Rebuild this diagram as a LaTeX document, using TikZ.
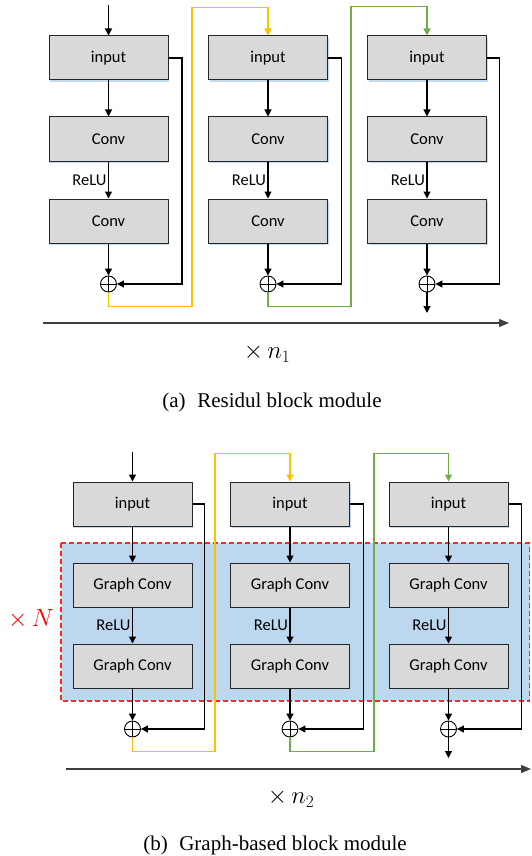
\documentclass[tikz,border=0pt]{standalone}
\usepackage{fontspec}
\setmainfont{Liberation Serif}
\newfontfamily\boxfont{Carlito}
\usetikzlibrary{arrows.meta,shadows}
\definecolor{boxgray}{RGB}{217,217,217}
\definecolor{regionblue}{RGB}{189,215,238}
\definecolor{glowblue}{RGB}{190,214,238}
\definecolor{linkyellow}{RGB}{255,192,0}
\definecolor{linkgreen}{RGB}{112,173,71}
\definecolor{dashred}{RGB}{250,40,40}
\definecolor{axisgray}{RGB}{64,64,64}

\begin{document}
\begin{tikzpicture}[x=1pt, y=-1pt,
  box/.style={draw=black!85, fill=boxgray, line width=1pt, minimum width=119pt, minimum height=44pt, inner sep=0pt,
    font=\boxfont\fontsize{16.5}{19}\selectfont,
    drop shadow={shadow xshift=1pt, shadow yshift=-2pt, fill=glowblue, opacity=0.9}},
  sum/.style={draw, circle, line width=0.9pt, minimum size=16pt, inner sep=0pt,
    path picture={\draw[line width=0.8pt] (path picture bounding box.north) -- (path picture bounding box.south)
      (path picture bounding box.west) -- (path picture bounding box.east);}},
  arr/.style={-{Triangle[length=7pt,width=7pt]}, line width=1.1pt},
  link/.style={-{Triangle[length=7pt,width=7pt]}, line width=1.4pt},
  relu/.style={left, inner sep=1.5pt, font=\boxfont\fontsize{16.5}{19}\selectfont},
  axis/.style={-{Triangle[length=10pt,width=8pt]}, line width=1.6pt, draw=axisgray},
  times/.style={font=\fontsize{24}{28}\selectfont},
  captext/.style={font=\fontsize{21}{25}\selectfont}
]
\useasboundingbox (0,0) rectangle (531,856);

% (a) residual blocks
\node[box] (inA) at (108.5,58) {input};
\node[box] (convA1) at (108.5,139) {Conv};
\node[box] (convA2) at (108.5,221) {Conv};
\node[sum] (addA) at (108.5,284) {};
\node[box] (inB) at (268,58) {input};
\node[box] (convB1) at (268,139) {Conv};
\node[box] (convB2) at (268,221) {Conv};
\node[sum] (addB) at (268,284) {};
\node[box] (inC) at (427,58) {input};
\node[box] (convC1) at (427,139) {Conv};
\node[box] (convC2) at (427,221) {Conv};
\node[sum] (addC) at (427,284) {};
\coordinate (startA) at (108.5,5);
\coordinate (endC) at (427,313);
\coordinate (axisL) at (43,323);
\coordinate (axisR) at (509,323);

\draw[arr] (startA) -- (inA);
\draw[arr] (inA) -- (convA1);
\draw[arr] (convA1) -- node[relu]{ReLU} (convA2);
\draw[arr] (convA2) -- (addA);
\draw[arr] (inA.east) -- ++(13.5,0) |- (addA);
\draw[arr] (inB) -- (convB1);
\draw[arr] (convB1) -- node[relu]{ReLU} (convB2);
\draw[arr] (convB2) -- (addB);
\draw[arr] (inB.east) -- ++(13.5,0) |- (addB);
\draw[arr] (inC) -- (convC1);
\draw[arr] (convC1) -- node[relu]{ReLU} (convC2);
\draw[arr] (convC2) -- (addC);
\draw[arr] (inC.east) -- ++(12.5,0) |- (addC);
\draw[arr] (addC) -- (endC);
\draw[link, linkyellow] (addA.south) |- ++(83.5,14) -- ++(0,-299) -| (inB.north);
\draw[link, linkgreen] (addB.south) |- ++(83,14) -- ++(0,-300) -| (inC.north);
\draw[axis] (axisL) -- (axisR);
\node[times] (repA) at (267,353) {$\times\, n_1$};
\node[captext] (capA) at (272,402) {(a)\hspace{0.55em}Residul block module};

% (b) graph-based blocks
\fill[regionblue] (61,543) rectangle (529.5,701);
\draw[dashred, line width=1.6pt, dash pattern=on 5pt off 3pt] (61,543) rectangle (529.5,701);
\node[box] (ginA) at (132.5,504) {input};
\node[box] (gconvA1) at (132.5,585) {Graph Conv};
\node[box] (gconvA2) at (132.5,666) {Graph Conv};
\node[sum] (gaddA) at (132.5,729) {};
\node[box] (ginB) at (290,504) {input};
\node[box] (gconvB1) at (290,585) {Graph Conv};
\node[box] (gconvB2) at (290,666) {Graph Conv};
\node[sum] (gaddB) at (290,729) {};
\node[box] (ginC) at (448.5,504) {input};
\node[box] (gconvC1) at (448.5,585) {Graph Conv};
\node[box] (gconvC2) at (448.5,666) {Graph Conv};
\node[sum] (gaddC) at (448.5,729) {};
\coordinate (gstartA) at (132.5,452);
\coordinate (gendC) at (448.5,758);
\coordinate (gaxisL) at (66,769);
\coordinate (gaxisR) at (531,769);

\draw[arr] (gstartA) -- (ginA);
\draw[arr] (ginA) -- (gconvA1);
\draw[arr] (gconvA1) -- node[relu]{ReLU} (gconvA2);
\draw[arr] (gconvA2) -- (gaddA);
\draw[arr] (ginA.east) -- ++(12,0) |- (gaddA);
\draw[arr] (ginB) -- (gconvB1);
\draw[arr] (gconvB1) -- node[relu]{ReLU} (gconvB2);
\draw[arr] (gconvB2) -- (gaddB);
\draw[arr] (ginB.east) -- ++(13.5,0) |- (gaddB);
\draw[arr] (ginC) -- (gconvC1);
\draw[arr] (gconvC1) -- node[relu]{ReLU} (gconvC2);
\draw[arr] (gconvC2) -- (gaddC);
\draw[arr] (ginC.east) -- ++(13,0) |- (gaddC);
\draw[arr] (gaddC) -- (gendC);
\draw[link, linkyellow] (gaddA.south) |- ++(82.5,14) -- ++(0,-298) -| (ginB.north);
\draw[link, linkgreen] (gaddB.south) |- ++(84,14) -- ++(0,-298) -| (ginC.north);
\draw[axis] (gaxisL) -- (gaxisR);
\node[times, text=red] (repN) at (31,619) {$\times\, N$};
\node[times] (repB) at (291,798) {$\times\, n_2$};
\node[captext] (capB) at (275,845) {(b)\hspace{0.55em}Graph-based block module};
\end{tikzpicture}
\end{document}
